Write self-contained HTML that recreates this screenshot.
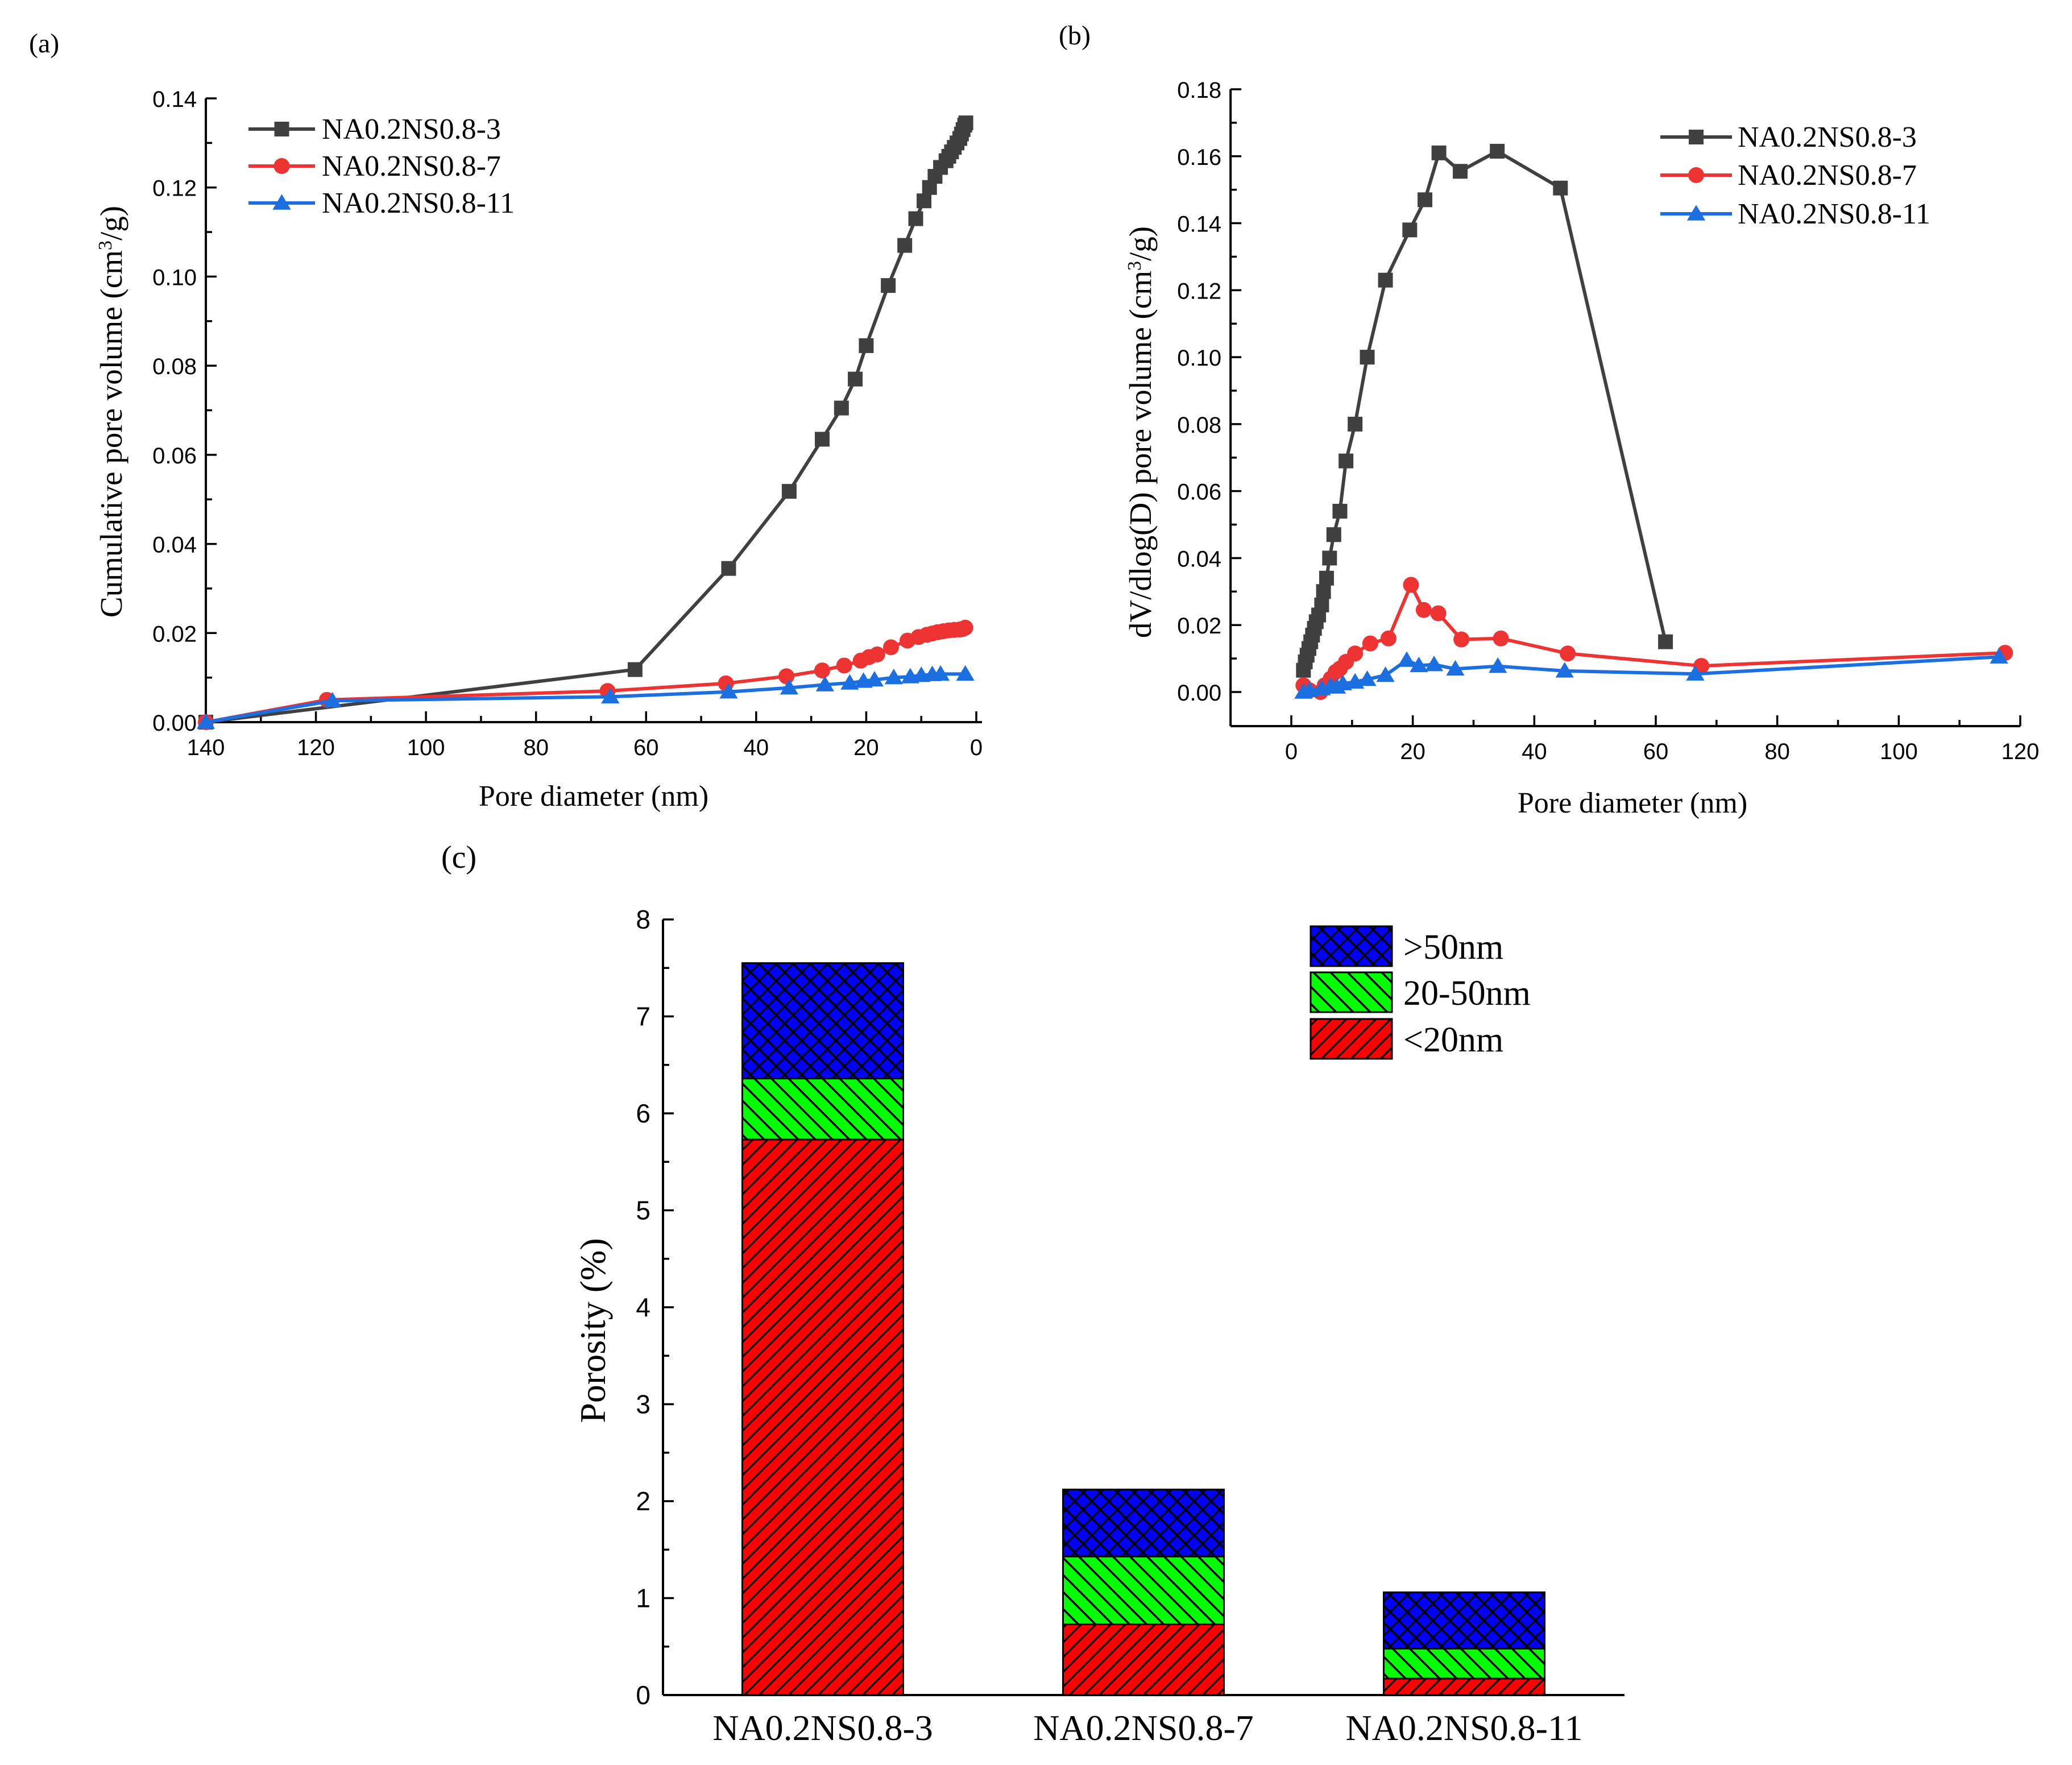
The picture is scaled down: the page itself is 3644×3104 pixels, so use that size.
<!DOCTYPE html>
<html><head><meta charset="utf-8"><style>
html,body{margin:0;padding:0;background:#fff}
svg{display:block}
.tn{font-family:"Liberation Serif",serif}
.ar{font-family:"Liberation Sans",sans-serif}
</style></head><body>
<svg id="fig" width="3644" height="3104" viewBox="0 0 3644 3104" xmlns="http://www.w3.org/2000/svg">
<defs>
<pattern id="pRed" patternUnits="userSpaceOnUse" width="26" height="26"><rect width="26" height="26" fill="#ff0000"/><path d="M-6,32 L32,-6 M-6,6 L6,-6 M20,32 L32,20" stroke="#000" stroke-width="3.5"/></pattern>
<pattern id="pGreen" patternUnits="userSpaceOnUse" width="30" height="30"><rect width="30" height="30" fill="#00ff00"/><path d="M-6,-6 L36,36 M-6,24 L6,36 M24,-6 L36,6" stroke="#000" stroke-width="3.5"/></pattern>
<pattern id="pBlue" patternUnits="userSpaceOnUse" width="30" height="30"><rect width="30" height="30" fill="#0000ff"/><path d="M-6,-6 L36,36 M-6,36 L36,-6 M-6,24 L6,36 M24,-6 L36,6 M-6,6 L6,-6 M24,36 L36,24" stroke="#000" stroke-width="3.5"/></pattern>
</defs>
<g id="root"></g>
</svg>
<script>
// ---------- Panel (a) data ----------
const aBlackX=[140,62,45,34,28,24.5,22,20,16,13,11,9.5,8.5,7.5,6.5,5.5,5,4.5,4,3.5,3,2.7,2.4,2.1,1.9];
const aBlackY=[0,0.0118,0.0345,0.0518,0.0635,0.0705,0.077,0.0845,0.098,0.107,0.113,0.117,0.120,0.1225,0.1245,0.126,0.127,0.128,0.129,0.130,0.131,0.132,0.133,0.134,0.1345];
const aRedX=[140,118,67,45.5,34.5,28,24,21,19.5,18,15.5,12.5,10.5,9,8,7,6,5,4,3,2.5,2];
const aRedY=[0,0.005,0.007,0.0087,0.0103,0.0116,0.0127,0.0138,0.0146,0.0152,0.0168,0.0183,0.0191,0.0196,0.0199,0.0202,0.0204,0.0206,0.0207,0.0208,0.0209,0.0212];
const aBlueX=[140,117,66.5,45,34,27.5,23,20.5,18.5,15,12,10,8,6.5,2];
const aBlueY=[0,0.0048,0.0057,0.0068,0.0077,0.0084,0.0088,0.0092,0.0095,0.0100,0.0102,0.0105,0.0107,0.0108,0.0108];
const aXTicks=[140,120,100,80,60,40,20,0];
const aYTicks=[0,0.02,0.04,0.06,0.08,0.10,0.12,0.14];
// ---------- Panel (b) data ----------
const bBlackX=[2,2.3,2.6,2.9,3.2,3.5,3.8,4.1,4.5,5,5.3,5.8,6.3,7,8,9,10.5,12.5,15.5,19.5,22,24.3,27.8,33.9,44.3,61.6];
const bBlackY=[0.0065,0.009,0.011,0.013,0.015,0.017,0.019,0.021,0.023,0.026,0.030,0.034,0.040,0.047,0.054,0.069,0.080,0.100,0.123,0.138,0.147,0.161,0.1555,0.1615,0.1505,0.015];
const bRedX=[2,3,4.8,5.5,6.5,7.3,8,9,10.5,13,16,19.7,21.8,24.2,28,34.5,45.5,67.5,117.5];
const bRedY=[0.002,0.0005,0,0.002,0.004,0.006,0.007,0.009,0.0115,0.0145,0.016,0.032,0.0245,0.0235,0.0157,0.016,0.0115,0.0078,0.0117];
const bBlueX=[2,3,5,6.5,7.5,8.5,10.5,12.5,15.5,19,21,23.5,27,34,45,66.5,116.5];
const bBlueY=[0,0.0005,0.001,0.0018,0.0015,0.0025,0.003,0.0038,0.005,0.0095,0.0079,0.0082,0.0069,0.0077,0.0063,0.0054,0.0105];
const bXTicks=[0,20,40,60,80,100,120];
const bYTicks=[0,0.02,0.04,0.06,0.08,0.10,0.12,0.14,0.16,0.18];
// ---------- Panel (c) data ----------
const cCategories=["NA0.2NS0.8-3","NA0.2NS0.8-7","NA0.2NS0.8-11"];
const cSmall=[5.73,0.73,0.17];
const cMid=[0.63,0.70,0.31];
const cLarge=[1.19,0.69,0.58];
const cYTicks=[0,1,2,3,4,5,6,7,8];
const seriesNames=["NA0.2NS0.8-3","NA0.2NS0.8-7","NA0.2NS0.8-11"];

const NS="http://www.w3.org/2000/svg";
const root=document.getElementById('root');
function mk(tag,attrs,parent,txt){const e=document.createElementNS(NS,tag);for(const k in attrs)e.setAttribute(k,attrs[k]);if(txt!==undefined)e.textContent=txt;(parent||root).appendChild(e);return e;}
function lin(d0,d1,r0,r1){return v=>r0+(v-d0)*(r1-r0)/(d1-d0);}
function fmt2(v){return v.toFixed(2);}
const MS=26;

function marker(g,type,x,y,col,s){
  let m;
  if(type==='sq'){m=mk('rect',{x:x-s/2,y:y-s/2,width:s,height:s,fill:col},g);}
  else if(type==='ci'){m=mk('circle',{cx:x,cy:y,r:s/2+1,fill:col},g);}
  else {m=mk('path',{d:`M${x},${y-s*0.6} L${x+s*0.62},${y+s*0.45} L${x-s*0.62},${y+s*0.45} Z`,fill:col},g);}
  
  
}
function series(g,xs,ys,sx,sy,col,type,name){
  const sg=mk('g',{},g);
  
  
  const pts=xs.map((v,i)=>sx(v)+','+sy(ys[i])).join(' ');
  const pl=mk('polyline',{points:pts,fill:'none',stroke:col,'stroke-width':6,'stroke-linejoin':'round'},sg);
  
  
  xs.forEach((v,i)=>marker(sg,type,sx(v),sy(ys[i]),col,MS));
}
function legend(g,x0,x1,ys,tx,fs){
  const cols=['#404040','#ee3333','#1c6fe0'];const types=['sq','ci','tr'];
  const lg=mk('g',{},g);
  
  
  ys.forEach((y,i)=>{
    const e=mk('g',{},lg);
    
    
    mk('line',{x1:x0,y1:y,x2:x1,y2:y,stroke:cols[i],'stroke-width':6},e);
    marker(e,types[i],(x0+x1)/2,y,cols[i],MS);
    mk('text',{x:tx,y:y+17,'font-size':fs,class:'tn'},e,seriesNames[i]);
  });
}

// ===== Panel a =====
(function(){
  const g=mk('g',{});
  
  
  const L=362,R=1717,T=173,B=1270;
  const sx=lin(140,0,L,R), sy=lin(0,0.14,B,T);
  mk('text',{x:51,y:92,'font-size':48,class:'tn'},g,'(a)');
  mk('line',{x1:L,y1:B,x2:L,y2:T,stroke:'#000','stroke-width':4},g);
  mk('line',{x1:L,y1:B,x2:R+10,y2:B,stroke:'#000','stroke-width':4},g);
  for(let i=0;i<=14;i++){const y=sy(i*0.01);const maj=i%2===0;mk('line',{x1:L,y1:y,x2:L+(maj?19:11),y2:y,stroke:'#000','stroke-width':3.5},g);}
  for(let v=0;v<=140;v+=10){const x=sx(v);const maj=v%20===0;mk('line',{x1:x,y1:B,x2:x,y2:B-(maj?19:11),stroke:'#000','stroke-width':3.5},g);}
  aYTicks.forEach(v=>{const t=mk('text',{x:L-16,y:sy(v)+15,'font-size':40,'text-anchor':'end',class:'ar'},g,fmt2(v));});
  aXTicks.forEach(v=>{const t=mk('text',{x:sx(v),y:B+58,'font-size':40,'text-anchor':'middle',class:'ar'},g,String(v));});
  const xt=mk('text',{x:1044,y:1417,'font-size':52,'text-anchor':'middle',class:'tn'},g,'Pore diameter (nm)');
  
  const yt=mk('text',{transform:'translate(214,724) rotate(-90)','font-size':55,'text-anchor':'middle',class:'tn'},g);
  
  yt.innerHTML='Cumulative pore volume (cm<tspan baseline-shift="super" font-size="34">3</tspan>/g)';
  series(g,aBlackX,aBlackY,sx,sy,'#404040','sq','series-na-3');
  series(g,aRedX,aRedY,sx,sy,'#ee3333','ci','series-na-7');
  series(g,aBlueX,aBlueY,sx,sy,'#1c6fe0','tr','series-na-11');
  legend(g,437,554,[227,292,357],566,52);
})();

// ===== Panel b =====
(function(){
  const g=mk('g',{});
  
  
  const x0=2271,x120=3553;
  const sx=lin(0,120,x0,x120);
  const L=sx(-10),R=x120,T=157,B=1277;
  const sy=lin(0,0.18,1217,T);
  mk('text',{x:1862,y:78,'font-size':48,class:'tn'},g,'(b)');
  mk('line',{x1:L,y1:B,x2:L,y2:T,stroke:'#000','stroke-width':4},g);
  mk('line',{x1:L,y1:B,x2:R,y2:B,stroke:'#000','stroke-width':4},g);
  for(let i=0;i<=18;i++){const y=sy(i*0.01);const maj=i%2===0;mk('line',{x1:L,y1:y,x2:L+(maj?19:11),y2:y,stroke:'#000','stroke-width':3.5},g);}
  for(let v=0;v<=120;v+=10){const x=sx(v);const maj=v%20===0;mk('line',{x1:x,y1:B,x2:x,y2:B-(maj?19:11),stroke:'#000','stroke-width':3.5},g);}
  bYTicks.forEach(v=>{const t=mk('text',{x:L-16,y:sy(v)+15,'font-size':40,'text-anchor':'end',class:'ar'},g,fmt2(v));});
  bXTicks.forEach(v=>{const t=mk('text',{x:sx(v),y:B+58,'font-size':40,'text-anchor':'middle',class:'ar'},g,String(v));});
  const xt=mk('text',{x:2871,y:1429,'font-size':52,'text-anchor':'middle',class:'tn'},g,'Pore diameter (nm)');
  
  const yt=mk('text',{transform:'translate(2024,760) rotate(-90)','font-size':55,'text-anchor':'middle',class:'tn'},g);
  
  yt.innerHTML='dV/dlog(D) pore volume (cm<tspan baseline-shift="super" font-size="34">3</tspan>/g)';
  series(g,bBlackX,bBlackY,sx,sy,'#404040','sq','series-na-3');
  series(g,bRedX,bRedY,sx,sy,'#ee3333','ci','series-na-7');
  series(g,bBlueX,bBlueY,sx,sy,'#1c6fe0','tr','series-na-11');
  legend(g,2920,3046,[241,308,376],3056,52);
})();

// ===== Panel c =====
(function(){
  const g=mk('g',{});
  
  
  const L=1166,R=2857,T=1617,B=2981;
  const sy=lin(0,8,B,T);
  const bw=283, c0=1447, step=564;
  mk('text',{x:776,y:1526,'font-size':56,class:'tn'},g,'(c)');
  cCategories.forEach((cat,i)=>{
    const xc=c0+i*step;
    const segs=[[0,cSmall[i],'url(#pRed)','bar-small-'+(i+1)],[cSmall[i],cSmall[i]+cMid[i],'url(#pGreen)','bar-mid-'+(i+1)],[cSmall[i]+cMid[i],cSmall[i]+cMid[i]+cLarge[i],'url(#pBlue)','bar-large-'+(i+1)]];
    segs.forEach(s=>{
      const r=mk('rect',{x:xc-bw/2,y:sy(s[1]),width:bw,height:sy(s[0])-sy(s[1]),fill:s[2],stroke:'#000','stroke-width':3},g);
      
      
    });
    const t=mk('text',{x:xc,y:3060,'font-size':64,'text-anchor':'middle',class:'tn'},g,cat);
    
  });
  mk('line',{x1:L,y1:B,x2:L,y2:T,stroke:'#000','stroke-width':4},g);
  mk('line',{x1:L,y1:B,x2:R,y2:B,stroke:'#000','stroke-width':4},g);
  for(let i=0;i<=16;i++){const y=sy(i*0.5);const maj=i%2===0;mk('line',{x1:L,y1:y,x2:L+(maj?19:11),y2:y,stroke:'#000','stroke-width':3.5},g);}
  cYTicks.forEach(v=>{const t=mk('text',{x:L-22,y:sy(v)+16,'font-size':46,'text-anchor':'end',class:'ar'},g,String(v));});
  const yt=mk('text',{transform:'translate(1064,2340) rotate(-90)','font-size':64,'text-anchor':'middle',class:'tn'},g,'Porosity (%)');
  
  const lg=mk('g',{},g);
  
  
  [['url(#pBlue)','>50nm',1629],['url(#pGreen)','20-50nm',1710],['url(#pRed)','<20nm',1792]].forEach(e=>{
    const eg=mk('g',{},lg);
    
    
    mk('rect',{x:2305,y:e[2],width:143,height:70,fill:e[0],stroke:'#000','stroke-width':3},eg);
    mk('text',{x:2468,y:e[2]+57,'font-size':62,class:'tn'},eg,e[1]);
  });
})();
</script>
</body></html>
